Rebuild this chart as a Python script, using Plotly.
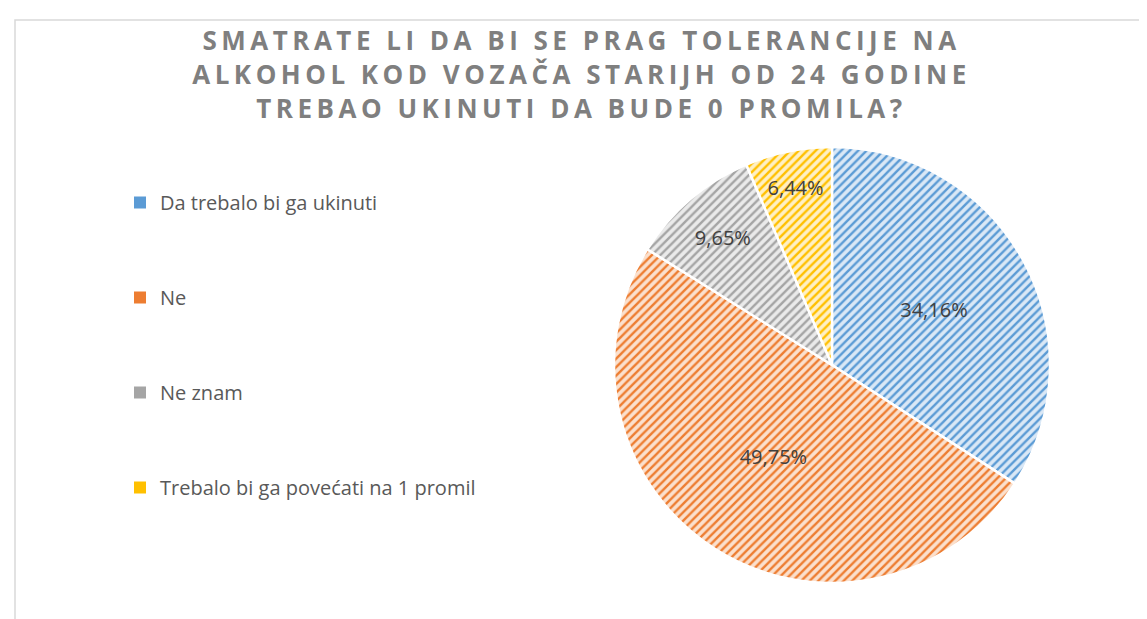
import plotly.graph_objects as go

categories = ["Da trebalo bi ga ukinuti", "Ne", "Ne znam", "Trebalo bi ga povećati na 1 promil"]
values = [34.16, 49.75, 9.65, 6.44]
value_labels = ["34,16%", "49,75%", "9,65%", "6,44%"]

main_colors = ["#5B9BD5", "#ED7D31", "#A5A5A5", "#FFC000"]
light_colors = ["#DAE8F6", "#FBE0CD", "#EAEAEA", "#FFF0C4"]

title_text = ("SMATRATE LI DA BI SE PRAG TOLERANCIJE NA<br>"
              "ALKOHOL KOD VOZAČA STARIJH OD 24 GODINE<br>"
              "TREBAO UKINUTI DA BUDE 0 PROMILA?")

W, H = 1147, 619
cx, cy, r = 824, 357, 218

fig = go.Figure()
fig.add_trace(go.Pie(
    labels=categories,
    values=values,
    text=value_labels,
    textinfo="text",
    textposition="inside",
    insidetextorientation="horizontal",
    textfont=dict(family="Open Sans, sans-serif", size=20, color="#404040"),
    sort=False,
    direction="clockwise",
    rotation=0,
    showlegend=False,
    hoverinfo="label+percent",
    marker=dict(
        colors=light_colors,
        line=dict(color="white", width=2.5),
        pattern=dict(shape="/", fgcolor=main_colors, bgcolor=light_colors,
                     size=6, solidity=0.4, fillmode="replace"),
    ),
    domain=dict(x=[(cx - r) / W, (cx + r) / W], y=[(H - cy - r) / H, (H - cy + r) / H]),
))

for name, col in zip(categories, main_colors):
    fig.add_trace(go.Scatter(
        x=[None], y=[None], mode="markers", name=name, legendgroup=name,
        marker=dict(symbol="square", size=8, color=col),
    ))

fig.update_layout(
    width=W, height=H,
    margin=dict(l=0, r=0, t=0, b=0),
    paper_bgcolor="white", plot_bgcolor="white",
    xaxis=dict(visible=False), yaxis=dict(visible=False),
    title=dict(text=title_text, x=0.5, xanchor="center", y=1 - 42 / H, yanchor="top",
               font=dict(family="Open Sans, sans-serif", size=26, color="#7F7F7F", weight="bold")),
    legend=dict(x=112 / W, xanchor="left", y=1 - 175 / H, yanchor="top",
                font=dict(family="Open Sans, sans-serif", size=20, color="#595959"),
                tracegroupgap=66, itemsizing="constant", bgcolor="rgba(0,0,0,0)"),
    shapes=[dict(type="rect", xref="paper", yref="paper",
                 x0=7 / W, x1=1.05, y0=-0.05, y1=1 - 12 / H,
                 line=dict(color="#D9D9D9", width=1.5), fillcolor="rgba(0,0,0,0)")],
)

post = ("function sp(){document.querySelectorAll('.gtitle').forEach(function(e){"
        "e.style.letterSpacing='4.5px';});}sp();"
        "var gd=document.getElementsByClassName('plotly-graph-div')[0];"
        "if(gd&&gd.on){gd.on('plotly_afterplot',sp);}")

fig.write_html("out.html", post_script=post)
